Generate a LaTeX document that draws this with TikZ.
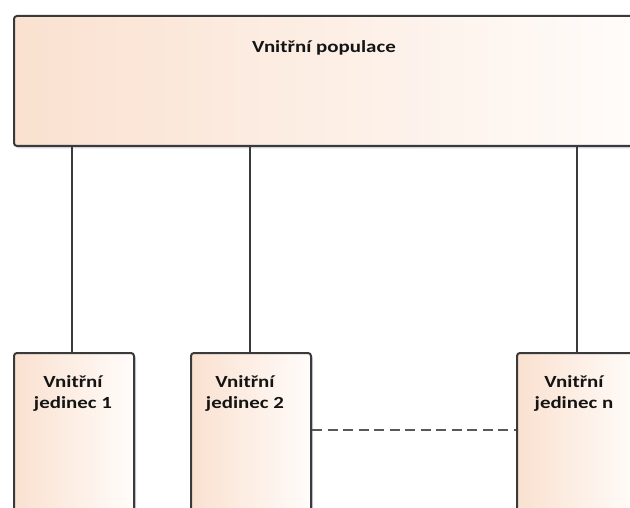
\documentclass[tikz,border=0pt]{standalone}
\usepackage{fontspec}
\setmainfont{Carlito}
\usetikzlibrary{shadows}
\definecolor{peach}{HTML}{FAE1D0}
\definecolor{pale}{HTML}{FFFCFA}
\definecolor{edge}{HTML}{3A3A3A}
\definecolor{shadowc}{HTML}{C3CAD8}
\tikzset{
  box/.style={draw=edge, line width=2pt, rounded corners=3pt,
    left color=peach, right color=pale, inner sep=0pt, anchor=north west,
    drop shadow={shadow xshift=2pt, shadow yshift=-2.5pt, fill=shadowc, opacity=0.8}},
  lbl/.style={font=\bfseries\fontsize{17}{21.5}\selectfont, text=black!92, inner sep=0pt, anchor=base},
  conn/.style={draw=edge, line width=1.9pt},
  dashline/.style={draw=edge!85, line width=1.8pt, dash pattern=on 10pt off 5.5pt}
}
\begin{document}
\begin{tikzpicture}[x=1pt, y=-1pt]
  \useasboundingbox (0,0) rectangle (630,508);
  \clip (0,0) rectangle (630,508);
  % boxes
  \node[box, minimum width=623pt, minimum height=130pt] (top) at (13,15) {};
  \node[box, minimum width=120pt, minimum height=175pt] (b1) at (13,352) {};
  \node[box, minimum width=120pt, minimum height=175pt] (b2) at (190,352) {};
  \node[box, minimum width=120pt, minimum height=175pt] (bn) at (516,352) {};
  % labels
  \node[lbl] (ttop) at (324,53) {\scalebox{1.23}[1]{Vnitřní populace}};
  \node[lbl] (t1) at (73,387) {\scalebox{1.23}[1]{\begin{tabular}[t]{@{}c@{}}Vnitřní\\jedinec 1\end{tabular}}};
  \node[lbl] (t2) at (245,387) {\scalebox{1.23}[1]{\begin{tabular}[t]{@{}c@{}}Vnitřní\\jedinec 2\end{tabular}}};
  \node[lbl] (tn) at (574,387) {\scalebox{1.23}[1]{\begin{tabular}[t]{@{}c@{}}Vnitřní\\jedinec n\end{tabular}}};
  % connectors
  \coordinate (c1) at (72,0);
  \coordinate (c2) at (250,0);
  \coordinate (cn) at (577,0);
  \draw[conn] (c1 |- top.south) -- (c1 |- b1.north);
  \draw[conn] (c2 |- top.south) -- (c2 |- b2.north);
  \draw[conn] (cn |- top.south) -- (cn |- bn.north);
  \coordinate (d) at (0,430);
  \draw[dashline] (b2.east |- d) -- (bn.west |- d);
\end{tikzpicture}
\end{document}
